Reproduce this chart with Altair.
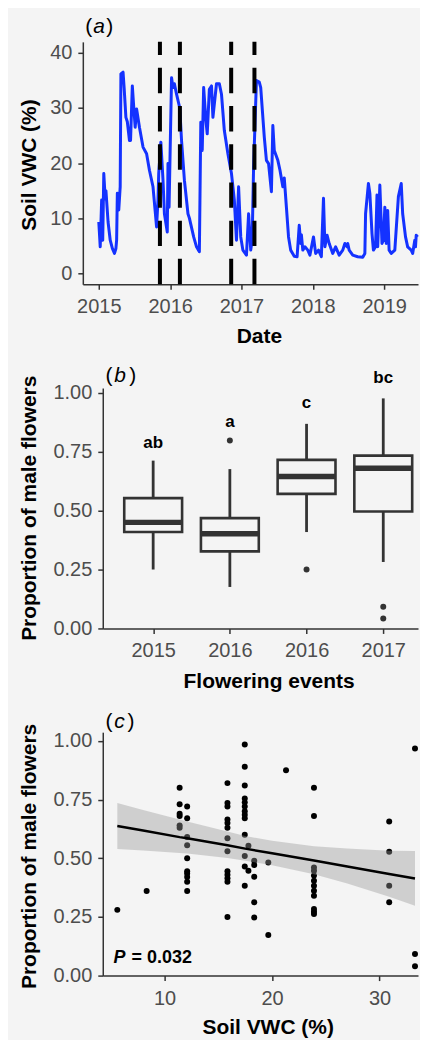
import altair as alt
import pandas as pd

BG = "#f4f4f4"
BLUE = "#1432ff"
DARK = "#333333"
FONT = "Liberation Sans"

# ---------------- panel (a): soil VWC time series ----------------
ts_year = [
    2015.00, 2015.02, 2015.04, 2015.055, 2015.07, 2015.09, 2015.10, 2015.13, 2015.16, 2015.19,
    2015.22, 2015.24, 2015.25, 2015.26, 2015.28, 2015.30, 2015.31, 2015.34, 2015.355, 2015.38,
    2015.40, 2015.43, 2015.445, 2015.47, 2015.49, 2015.51, 2015.53, 2015.57, 2015.62, 2015.67,
    2015.71, 2015.76, 2015.81, 2015.83, 2015.84, 2015.87, 2015.90, 2015.92, 2015.96, 2015.97,
    2015.985, 2016.02, 2016.04, 2016.06, 2016.09, 2016.135, 2016.16, 2016.20, 2016.25, 2016.27,
    2016.33, 2016.37, 2016.41, 2016.43, 2016.45, 2016.47, 2016.50, 2016.52, 2016.55, 2016.58,
    2016.60, 2016.65, 2016.69, 2016.72, 2016.76, 2016.81, 2016.86, 2016.90, 2016.93, 2016.96,
    2016.99, 2017.02, 2017.07, 2017.10, 2017.13, 2017.15, 2017.17, 2017.21, 2017.25, 2017.27,
    2017.32, 2017.35, 2017.38, 2017.42, 2017.44, 2017.46, 2017.51, 2017.54, 2017.58, 2017.60,
    2017.63, 2017.66, 2017.69, 2017.74, 2017.78, 2017.81, 2017.83, 2017.84, 2017.86, 2017.89,
    2017.93, 2017.96, 2018.01, 2018.04, 2018.08, 2018.12, 2018.15, 2018.17, 2018.20, 2018.23,
    2018.28, 2018.32, 2018.37, 2018.42, 2018.45, 2018.48, 2018.49, 2018.51, 2018.56, 2018.63,
    2018.70, 2018.73, 2018.74, 2018.78, 2018.80, 2018.83, 2018.85, 2018.88, 2018.90, 2018.91,
    2018.94, 2018.97, 2018.99, 2019.01, 2019.03, 2019.05, 2019.07, 2019.10, 2019.15, 2019.20,
    2019.24, 2019.26, 2019.30, 2019.33, 2019.38, 2019.40, 2019.43, 2019.44, 2019.45, 2019.47,
]
ts_vwc = [
    9.3, 4.8, 13.3, 6.0, 18.1, 13.5, 15.0, 9.3, 6.0, 4.5,
    3.6, 4.5, 6.0, 14.5, 11.5, 15.7, 36.2, 36.5, 33.7, 28.3,
    27.5, 24.1, 24.1, 34.0, 30.1, 26.5, 29.8, 26.5, 22.9, 21.7,
    18.7, 15.7, 8.4, 13.3, 18.1, 23.8, 16.9, 10.8, 7.5, 19.9,
    12.0, 35.5, 33.7, 34.4, 32.5, 30.0, 24.1, 16.9, 10.8, 10.0,
    6.6, 4.8, 3.9, 27.4, 22.3, 33.7, 28.0, 25.3, 33.4, 34.0,
    28.3, 34.4, 34.4, 32.5, 25.9, 21.7, 18.1, 13.3, 6.0, 15.7,
    6.6, 4.2, 3.3, 10.8, 4.2, 6.0, 19.3, 35.0, 34.7, 33.7,
    24.7, 20.5, 19.9, 14.8, 26.8, 22.3, 20.5, 18.7, 15.7, 17.3,
    12.0, 6.6, 4.2, 3.1, 3.0, 8.7, 5.4, 7.0, 4.2, 4.8,
    4.2, 3.3, 6.6, 3.6, 4.2, 3.0, 13.6, 4.8, 6.9, 5.4,
    3.6, 4.8, 3.3, 4.2, 5.4, 4.8, 5.4, 4.2, 3.3, 3.0,
    2.9, 3.6, 10.8, 16.3, 14.5, 7.2, 4.2, 4.8, 14.2, 4.8,
    16.0, 5.4, 6.0, 12.0, 5.4, 11.4, 4.2, 3.6, 4.2, 13.9,
    16.3, 10.8, 6.6, 4.8, 4.2, 3.6, 6.0, 4.8, 6.9, 6.6,
]
event_year = [2015.857, 2016.137, 2016.856, 2017.182]
year_ticks = [2015, 2016, 2017, 2018, 2019]
vwc_ticks = [0, 10, 20, 30, 40]

# ---------------- panel (b): box plots ----------------
event_labels = ["2015", "2016", "2016", "2017"]
event_pos = [1, 2, 3, 4]
box_lower = [0.250, 0.176, 0.409, 0.282]
box_q1 = [0.409, 0.327, 0.571, 0.496]
box_median = [0.450, 0.402, 0.645, 0.680]
box_q3 = [0.553, 0.468, 0.715, 0.733]
box_upper = [0.712, 0.676, 0.868, 0.976]
outlier_pos = [2, 3, 4, 4]
outlier_val = [0.797, 0.250, 0.092, 0.042]
letters = ["ab", "a", "c", "bc"]
letter_y = [0.766, 0.855, 0.935, 1.041]
prop_ticks = [0, 0.25, 0.5, 0.75, 1.0]

# ---------------- panel (c): scatter + fit ----------------
soil_x = (
    [5.6, 8.33]
    + [11.4] * 6
    + [12.1] * 10
    + [15.85] * 13
    + [17.46] * 13
    + [17.8] * 2
    + [18.34] * 5
    + [19.65] * 2
    + [21.3]
    + [23.9] * 12
    + [30.9] * 4
    + [33.3] * 3
)
prop_y = (
    [0.28, 0.36]
    + [0.80, 0.73, 0.69, 0.68, 0.64, 0.63]
    + [0.72, 0.67, 0.59, 0.555, 0.50, 0.445, 0.435, 0.42, 0.40, 0.36]
    + [0.82, 0.735, 0.72, 0.665, 0.65, 0.63, 0.585, 0.53, 0.445, 0.43, 0.415, 0.40, 0.25]
    + [0.985, 0.89, 0.81, 0.755, 0.738, 0.72, 0.70, 0.685, 0.67, 0.60, 0.51, 0.465, 0.383]
    + [0.553, 0.447]
    + [0.489, 0.471, 0.421, 0.312, 0.248]
    + [0.482, 0.173]
    + [0.875]
    + [0.80, 0.68, 0.461, 0.447, 0.426, 0.404, 0.383, 0.362, 0.34, 0.284, 0.272, 0.262]
    + [0.657, 0.528, 0.383, 0.312]
    + [0.968, 0.092, 0.040]
)
fit_x = [5.6, 8.0, 11.4, 12.1, 15.85, 17.5, 20.0, 23.9, 27.0, 30.9, 33.3]
fit_y = [0.637, 0.618, 0.590, 0.585, 0.555, 0.541, 0.521, 0.490, 0.465, 0.433, 0.414]
fit_hi = [0.735, 0.705, 0.665, 0.656, 0.614, 0.595, 0.574, 0.551, 0.541, 0.532, 0.531]
fit_lo = [0.539, 0.533, 0.522, 0.520, 0.501, 0.489, 0.470, 0.432, 0.392, 0.336, 0.298]
soil_ticks = [10, 20, 30]

# ---------------- layout (px) ----------------
W = 336            # common plot width (all panels share the same left edge)
INSET = 20         # panels b and c: y axis sits 20 px right of panel a's
HA, HB, HC = 243, 241, 244
GAP = 104          # gap between consecutive plot areas


def tag(chars, xs, y, size=21):
    layers = []
    for ch, x in zip(chars, xs):
        style = "normal" if ch in "()" else "italic"
        layers.append(
            alt.Chart(pd.DataFrame({"t": [ch]}))
            .mark_text(font=FONT, fontSize=size, fontStyle=style, align="left",
                       baseline="alphabetic", color="black")
            .encode(x=alt.value(x), y=alt.value(y), text="t:N")
        )
    return layers


# panel a
ts = pd.DataFrame({"year": ts_year, "vwc": ts_vwc})
xa = alt.X("year:Q", scale=alt.Scale(domain=[2014.776, 2019.475], nice=False, zero=False),
           axis=alt.Axis(values=year_ticks, format="d", title="Date", titleX=176.5, titleY=58.7))
ya = alt.Y("vwc:Q", scale=alt.Scale(domain=[-2, 42], nice=False),
           axis=alt.Axis(values=vwc_ticks, title="Soil VWC (%)", titleX=-47.3, titleY=123))
line_a = alt.Chart(ts).mark_line(color=BLUE, strokeWidth=3, strokeJoin="round").encode(x=xa, y=ya)
rules_a = alt.Chart(pd.DataFrame({"year": event_year})).mark_rule(
    color="black", strokeWidth=4, strokeDash=[25.5, 12.8]
).encode(x="year:Q", y=alt.value(HA), y2=alt.value(0))
panel_a = alt.layer(line_a, rules_a, *tag(["(", "a", ")"], [2.5, 10.5, 23.5], -9.3)).properties(
    width=W, height=HA)

# panel b
boxes = pd.DataFrame({"pos": event_pos, "lower": box_lower, "q1": box_q1, "median": box_median,
                      "q3": box_q3, "upper": box_upper, "letter": letters, "ly": letter_y})
outl = pd.DataFrame({"pos": outlier_pos, "val": outlier_val})
label_expr = "[" + ",".join("'%s'" % s for s in event_labels) + "][datum.value - 1]"
xb = alt.X("pos:Q", scale=alt.Scale(domain=[0.408, 4.388], range=[INSET, W], nice=False, zero=False),
           axis=alt.Axis(values=event_pos, labelExpr=label_expr, title="Flowering events",
                         titleX=186.2, titleY=59.3))
yb_scale = alt.Scale(domain=[0, 1.02], nice=False)
yb_axis = alt.Axis(values=prop_ticks, format=".2f", title="Proportion of male flowers",
                   titleX=-67.3, titleY=120, offset=-INSET)
whisk = alt.Chart(boxes).mark_rule(color=DARK, strokeWidth=2.8).encode(
    x=xb, y=alt.Y("lower:Q", scale=yb_scale, axis=yb_axis), y2="upper:Q")
box = alt.Chart(boxes).mark_bar(size=58, fill=BG, stroke=DARK, strokeWidth=2.6).encode(
    x="pos:Q", y="q1:Q", y2="q3:Q")
med = alt.Chart(boxes).mark_tick(orient="horizontal", size=58, thickness=5.5, color=DARK,
                                 opacity=1).encode(x="pos:Q", y="median:Q")
outp = alt.Chart(outl).mark_circle(size=36, color=DARK, opacity=1).encode(x="pos:Q", y="val:Q")
let = alt.Chart(boxes).mark_text(font=FONT, fontSize=17, fontWeight="bold", baseline="alphabetic",
                                 color="black").encode(x="pos:Q", y="ly:Q", text="letter:N")
panel_b = alt.layer(whisk, box, med, outp, let,
                    *tag(["(", "b", ")"], [22.8, 31.5, 46.5], -5.7)).properties(width=W, height=HB)

# panel c
pts = pd.DataFrame({"soil": soil_x, "prop": prop_y})
fit = pd.DataFrame({"soil": fit_x, "fit": fit_y, "lo": fit_lo, "hi": fit_hi})
xc = alt.X("soil:Q", scale=alt.Scale(domain=[4.247, 33.58], range=[INSET, W], nice=False, zero=False),
           axis=alt.Axis(values=soil_ticks, title="Soil VWC (%)", titleX=185.3, titleY=58.5))
yc = alt.Y("prop:Q", scale=alt.Scale(domain=[0, 1.037], nice=False),
           axis=alt.Axis(values=prop_ticks, format=".2f", title="Proportion of male flowers",
                         titleX=-67.3, titleY=124, offset=-INSET))
scatter = alt.Chart(pts).mark_circle(size=36, color="black", opacity=1).encode(x=xc, y=yc)
band = alt.Chart(fit).mark_area(color="#999999", opacity=0.4).encode(x="soil:Q", y="lo:Q", y2="hi:Q")
fline = alt.Chart(fit).mark_line(color="black", strokeWidth=2.5).encode(x="soil:Q", y="fit:Q")
p_df = pd.DataFrame({"soil": [5.25], "prop": [0.054], "a": ["P"], "b": ["= 0.032"]})
p1 = alt.Chart(p_df).mark_text(font=FONT, fontSize=18, fontWeight="bold", fontStyle="italic",
                               align="left", baseline="alphabetic", color="black").encode(
    x="soil:Q", y="prop:Q", text="a:N")
p2 = alt.Chart(p_df).mark_text(font=FONT, fontSize=18, fontWeight="bold", align="left",
                               baseline="alphabetic", color="black", dx=18).encode(
    x="soil:Q", y="prop:Q", text="b:N")
panel_c = alt.layer(scatter, band, fline, p1, p2,
                    *tag(["(", "c", ")"], [22.8, 31.5, 44.8], -3.7)).properties(width=W, height=HC)

chart = (
    alt.vconcat(panel_a, panel_b, panel_c, spacing=GAP, bounds="flush")
    .properties(background=BG, padding={"left": 10, "top": 5.7, "right": 0, "bottom": 0})
    .configure_view(stroke=None)
    .configure_axis(
        grid=False,
        domainColor=DARK, domainWidth=1.5, tickColor=DARK, tickWidth=1.5, tickSize=5,
        labelFont=FONT, labelFontSize=20, labelColor="#4d4d4d",
        titleFont=FONT, titleFontSize=21, titleFontWeight="bold", titleColor="black",
        titleBaseline="alphabetic",
    )
    .configure_axisX(labelPadding=7.5)
    .configure_axisY(labelPadding=6)
)

chart.save("out.html", embed_options={"renderer": "svg", "actions": False})
